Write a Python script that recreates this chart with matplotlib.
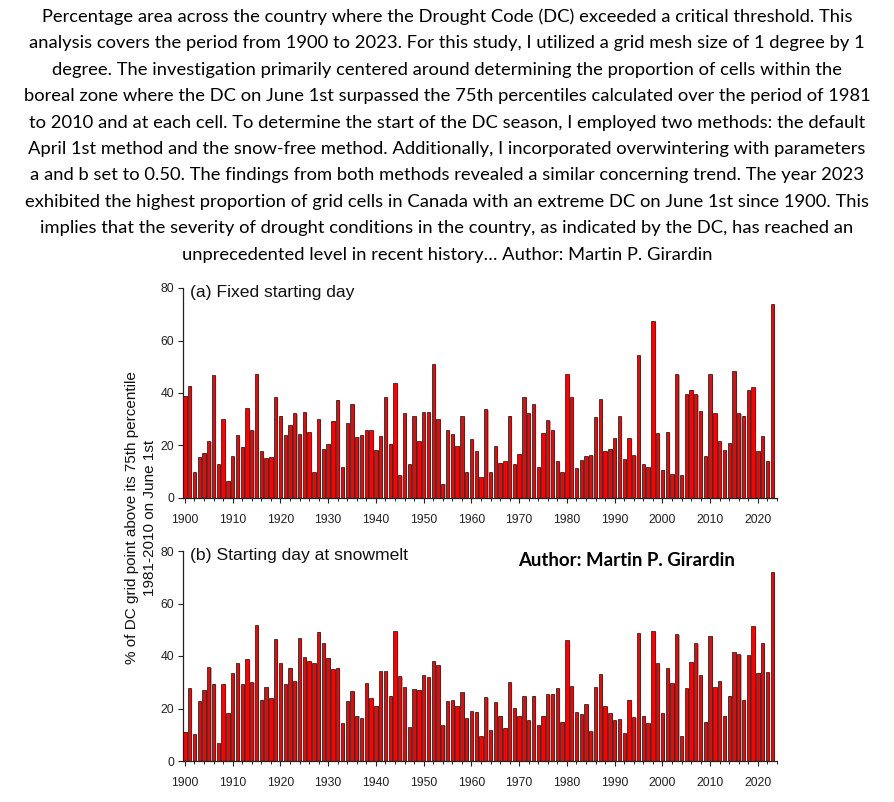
import numpy as np
import matplotlib
matplotlib.use('Agg')
import matplotlib.pyplot as plt
import matplotlib.patheffects as pe
from matplotlib.ticker import MultipleLocator

# Datos: % de celdas con DC sobre el percentil 75
years = np.arange(1900, 2024)

fixed_start = [
    39.0, 42.8, 9.8, 15.6, 17.3, 21.8, 46.9, 13.0, 30.2, 6.5,
    16.0, 24.1, 19.6, 34.4, 25.9, 47.4, 17.8, 15.2, 15.7, 38.5,
    31.4, 24.1, 27.9, 32.4, 24.5, 32.6, 25.0, 9.9, 30.2, 18.7,
    20.7, 29.5, 37.5, 11.8, 28.6, 35.8, 23.4, 24.1, 26.0, 26.0,
    18.4, 23.6, 38.5, 20.7, 43.9, 8.8, 32.4, 13.0, 31.1, 21.8,
    32.6, 32.6, 51.0, 30.2, 5.5, 26.0, 24.4, 19.8, 31.1, 9.9,
    22.6, 17.8, 8.0, 33.9, 9.9, 19.8, 13.5, 14.0, 31.4, 13.0,
    16.9, 38.3, 32.3, 35.8, 11.9, 24.8, 29.6, 25.9, 14.0, 9.9,
    47.2, 38.3, 11.3, 14.5, 16.0, 16.5, 30.9, 37.8, 17.9, 18.8,
    22.9, 31.1, 14.9, 22.9, 16.3, 54.6, 13.0, 11.7, 67.4, 24.8,
    10.8, 25.3, 9.1, 47.1, 8.8, 39.7, 41.3, 39.7, 33.1, 16.0,
    47.1, 32.3, 21.8, 18.4, 21.0, 48.4, 32.5, 31.4, 41.0, 42.4,
    17.8, 23.7, 14.2, 73.9,
]

snowmelt_start = [
    11.2, 27.7, 10.3, 22.9, 27.0, 35.8, 29.5, 6.9, 29.5, 18.2,
    33.5, 37.3, 29.2, 38.7, 30.1, 51.7, 23.4, 28.1, 23.9, 46.3,
    37.3, 29.2, 35.6, 30.6, 46.9, 39.6, 38.2, 37.2, 49.3, 44.8,
    39.4, 35.0, 35.6, 14.6, 22.9, 26.7, 17.3, 16.4, 29.6, 23.9,
    21.1, 34.4, 34.4, 24.9, 49.5, 32.4, 28.1, 12.8, 27.4, 27.2,
    32.8, 31.9, 38.2, 36.6, 13.6, 22.9, 23.2, 20.8, 26.4, 16.4,
    19.0, 18.8, 9.5, 24.3, 11.8, 22.6, 17.3, 12.7, 30.1, 20.2,
    17.3, 24.6, 15.6, 24.9, 13.8, 17.3, 25.4, 25.7, 27.7, 15.0,
    46.0, 28.4, 18.5, 17.8, 21.6, 11.4, 28.1, 33.0, 20.8, 18.4,
    15.6, 16.0, 10.5, 23.4, 16.6, 48.6, 17.3, 14.6, 49.5, 37.3,
    18.4, 35.3, 29.6, 48.4, 9.4, 27.7, 37.7, 44.8, 32.6, 15.0,
    47.5, 28.1, 30.3, 17.3, 24.9, 41.4, 40.6, 23.4, 40.3, 51.4,
    33.7, 44.8, 33.9, 72.1,
]

description = [
    "Percentage area across the country where the Drought Code (DC) exceeded a critical threshold. This",
    "analysis covers the period from 1900 to 2023. For this study, I utilized a grid mesh size of 1 degree by 1",
    "degree. The investigation primarily centered around determining the proportion of cells within the",
    "boreal zone where the DC on June 1st surpassed the 75th percentiles calculated over the period of 1981",
    "to 2010 and at each cell. To determine the start of the DC season, I employed two methods: the default",
    "April 1st method and the snow-free method. Additionally, I incorporated overwintering with parameters",
    "a and b set to 0.50. The findings from both methods revealed a similar concerning trend. The year 2023",
    "exhibited the highest proportion of grid cells in Canada with an extreme DC on June 1st since 1900. This",
    "implies that the severity of drought conditions in the country, as indicated by the DC, has reached an",
    "unprecedented level in recent history\u2026 Author: Martin P. Girardin",
]

panel_titles = ["(a) Fixed starting day", "(b) Starting day at snowmelt"]

W, H = 894, 802
fig = plt.figure(figsize=(W / 100, H / 100), dpi=100)

# Texto de cabecera, una linea por texto
for i, line in enumerate(description):
    fig.text(0.5, 1 - (17 + 26.4 * i) / H, line, ha='center', va='center',
             family='Lato', fontsize=13.2, color='black')

# Paneles: (izquierda, abajo, ancho, alto) en pixeles
panels = [(183, 498, 594, 210), (183, 761, 594, 210)]
series = [fixed_start, snowmelt_start]

shadow = [pe.SimplePatchShadow(offset=(0.8, -0.6), shadow_rgbFace='0.6', alpha=0.8), pe.Normal()]

for (x0, yb, w, h), vals, title in zip(panels, series, panel_titles):
    ax = fig.add_axes([x0 / W, 1 - yb / H, w / W, h / H])
    ax.bar(years, vals, width=0.7, color='#ff0000', edgecolor='#111111',
           linewidth=0.5, path_effects=shadow, zorder=2)
    ax.set_xlim(1899.6, 2024)
    ax.set_ylim(0, 80)
    ax.set_yticks([0, 20, 40, 60, 80])
    ax.set_xticks(np.arange(1900, 2021, 10))
    ax.xaxis.set_minor_locator(MultipleLocator(2))
    for s in ['top', 'right']:
        ax.spines[s].set_visible(False)
    for s in ['left', 'bottom']:
        ax.spines[s].set_linewidth(0.9)
        ax.spines[s].set_color('#222222')
    ax.tick_params(axis='both', which='major', direction='out', length=3.8, width=0.8,
                   labelsize=8.8, colors='#222222')
    ax.tick_params(axis='x', which='major', pad=7.5)
    ax.tick_params(axis='y', which='major', pad=2.5)
    ax.tick_params(axis='x', which='minor', direction='out', length=2.2, width=0.7, color='#222222')
    for lbl in ax.get_xticklabels() + ax.get_yticklabels():
        lbl.set_family('Liberation Sans')
    ax.text(0.012, 0.98, title, transform=ax.transAxes, ha='left', va='center',
            family='Liberation Sans', fontsize=12.6, color='#111111')

fig.text(141 / W, 1 - 518 / H,
         "% of DC grid point above its 75th percentile\n1981-2010 on June 1st",
         rotation=90, ha='center', va='center', family='Liberation Sans',
         fontsize=11, linespacing=1.3, color='#111111')

fig.text(518 / W, 1 - 561 / H, "Author: Martin P. Girardin", ha='left', va='center',
         family='Lato', fontweight='bold', fontsize=13.4, color='black')

fig.savefig('out.png', dpi=100)
